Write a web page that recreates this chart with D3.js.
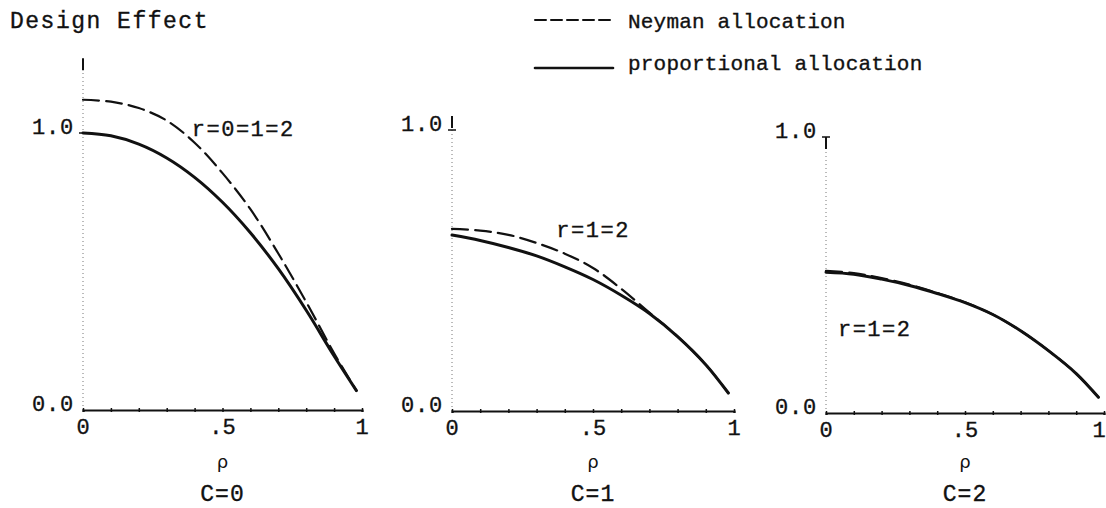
<!DOCTYPE html>
<html><head><meta charset="UTF-8">
<title>Design Effect: Neyman vs proportional allocation</title>
<script src="https://cdn.jsdelivr.net/npm/d3@7"></script>
<style>
  body { margin: 0; background: #fff; }
  svg text { font-family: "Liberation Mono", "DejaVu Sans Mono", monospace; fill: #111; stroke: #111; stroke-width: 0.35px; }
  .rho { font-family: "DejaVu Sans", sans-serif; stroke-width: 0; }
  .curve { fill: none; stroke: #111; stroke-linecap: round; stroke-linejoin: round; }
  .neyman { stroke-width: 2.2; stroke-dasharray: 16,7; }
  .prop { stroke-width: 3; }
</style>
</head>
<body>
<svg width="1106" height="508"></svg>
<script>
// data
var rho = [0, .1, .2, .3, .4, .5, .6, .7, .8, .9, .98];
var c0Neyman = [1.12, 1.113, 1.09, 1.045, 0.965, 0.855, 0.725, 0.565, 0.39, 0.205, 0.07];
var c0Prop   = [1.0, 0.99, 0.96, 0.91, 0.84, 0.75, 0.64, 0.51, 0.36, 0.195, 0.07];
var c1Neyman = [0.648, 0.642, 0.627, 0.598, 0.560, 0.509, 0.435, 0.35, 0.265, 0.165, 0.064];
var c1Prop   = [0.626, 0.607, 0.582, 0.552, 0.513, 0.468, 0.412, 0.347, 0.265, 0.165, 0.064];
var c2Neyman = [0.515, 0.507, 0.489, 0.465, 0.435, 0.401, 0.357, 0.298, 0.226, 0.143, 0.057];
var c2Prop   = [0.51, 0.503, 0.485, 0.462, 0.433, 0.40, 0.357, 0.298, 0.226, 0.143, 0.057];
var panelNames = ["C=0", "C=1", "C=2"];
var rLabels = ["r=0=1=2", "r=1=2", "r=1=2"];
var xTicks = [0, .5, 1];
var xTickLabels = ["0", ".5", "1"];
var yTicks = [0, 1];
var yTickLabels = ["0.0", "1.0"];

//begin: layout conf.
var panels = [
  {x0: 83,  x1: 362,  y0: 410, y1: 133, top: 1.27, neyman: c0Neyman, prop: c0Prop, lab: [0.39, 0.99]},
  {x0: 452, x1: 734,  y0: 411, y1: 130, top: 1.05, neyman: c1Neyman, prop: c1Prop, lab: [0.37, 0.62]},
  {x0: 826, x1: 1104, y0: 413, y1: 137, top: 1.0,  neyman: c2Neyman, prop: c2Prop, lab: [0.043, 0.28]}
];
//end: layout conf.

var svg = d3.select("svg");

svg.append("text").attr("x", 10).attr("y", 28)
  .style("font-size", "23px").style("letter-spacing", "1.5px")
  .text("Design Effect");

// legend
var legend = svg.append("g");
legend.append("line").attr("class", "curve").attr("x1", 535).attr("x2", 613)
  .attr("y1", 20).attr("y2", 20).style("stroke-width", 2).style("stroke-dasharray", "11,5");
legend.append("line").attr("class", "curve").attr("x1", 535).attr("x2", 613)
  .attr("y1", 68).attr("y2", 68).style("stroke-width", 2.6);
legend.append("text").attr("x", 628).attr("y", 28)
  .style("font-size", "21px").style("letter-spacing", "0.2px").text("Neyman allocation");
legend.append("text").attr("x", 628).attr("y", 70)
  .style("font-size", "21px").style("letter-spacing", "0.2px").text("proportional allocation");

panels.forEach(function(p, i) {
  var x = d3.scaleLinear().domain([0, 1]).range([p.x0, p.x1]);
  var y = d3.scaleLinear().domain([0, 1]).range([p.y0, p.y1]);
  var g = svg.append("g");

  // y axis: faint dotted, solid at top
  g.append("line").attr("x1", x(0)).attr("x2", x(0))
    .attr("y1", y(0)).attr("y2", y(p.top))
    .style("stroke", "#777").style("stroke-width", 1).style("stroke-dasharray", "1,3");
  g.append("line").attr("x1", x(0)).attr("x2", x(0))
    .attr("y1", y(p.top)).attr("y2", y(p.top) + 12)
    .style("stroke", "#111").style("stroke-width", 2);
  g.append("line").attr("x1", x(0) - 4).attr("x2", x(0) + 4)
    .attr("y1", y(1)).attr("y2", y(1))
    .style("stroke", "#111").style("stroke-width", 1.5);

  // x axis
  var xAxis = d3.axisBottom(x).tickValues(d3.range(0, 1.01, 0.1))
    .tickSize(2).tickFormat("");
  var ax = g.append("g").attr("transform", "translate(0," + y(0) + ")").call(xAxis);
  ax.select(".domain").style("stroke", "#111").style("stroke-width", 2.2);
  ax.selectAll(".tick line").style("stroke", "#111").attr("y1", -2).style("stroke-width", 1.5);

  g.selectAll(".xlab").data(xTicks).enter().append("text")
    .attr("x", function(d) { return Math.min(x(d), 1099); }).attr("y", y(0) + 24)
    .attr("text-anchor", "middle").style("font-size", "22px")
    .text(function(d, k) { return xTickLabels[k]; });

  g.selectAll(".ylab").data(yTicks).enter().append("text")
    .attr("x", x(0) - 9).attr("y", function(d) { return y(d) + 1; })
    .attr("text-anchor", "end").style("font-size", "22px").style("letter-spacing", "0.8px")
    .text(function(d, k) { return yTickLabels[k]; });

  g.append("text").attr("class", "rho").attr("x", x(0.5)).attr("y", 468)
    .attr("text-anchor", "middle").style("font-size", "18px").text("\u03c1");
  g.append("text").attr("x", x(0.5)).attr("y", 501)
    .attr("text-anchor", "middle").style("font-size", "23px").style("letter-spacing", "1px")
    .text(panelNames[i]);

  g.append("text").attr("x", x(p.lab[0])).attr("y", y(p.lab[1]))
    .style("font-size", "22px").style("letter-spacing", "1.5px").text(rLabels[i]);

  var line = d3.line()
    .x(function(d, k) { return x(rho[k]); })
    .y(function(d) { return y(d); })
    .curve(d3.curveCatmullRom.alpha(0.5));

  g.append("path").attr("class", "curve neyman").attr("d", line(p.neyman));
  g.append("path").attr("class", "curve prop").attr("d", line(p.prop));
});
</script>
</body></html>
